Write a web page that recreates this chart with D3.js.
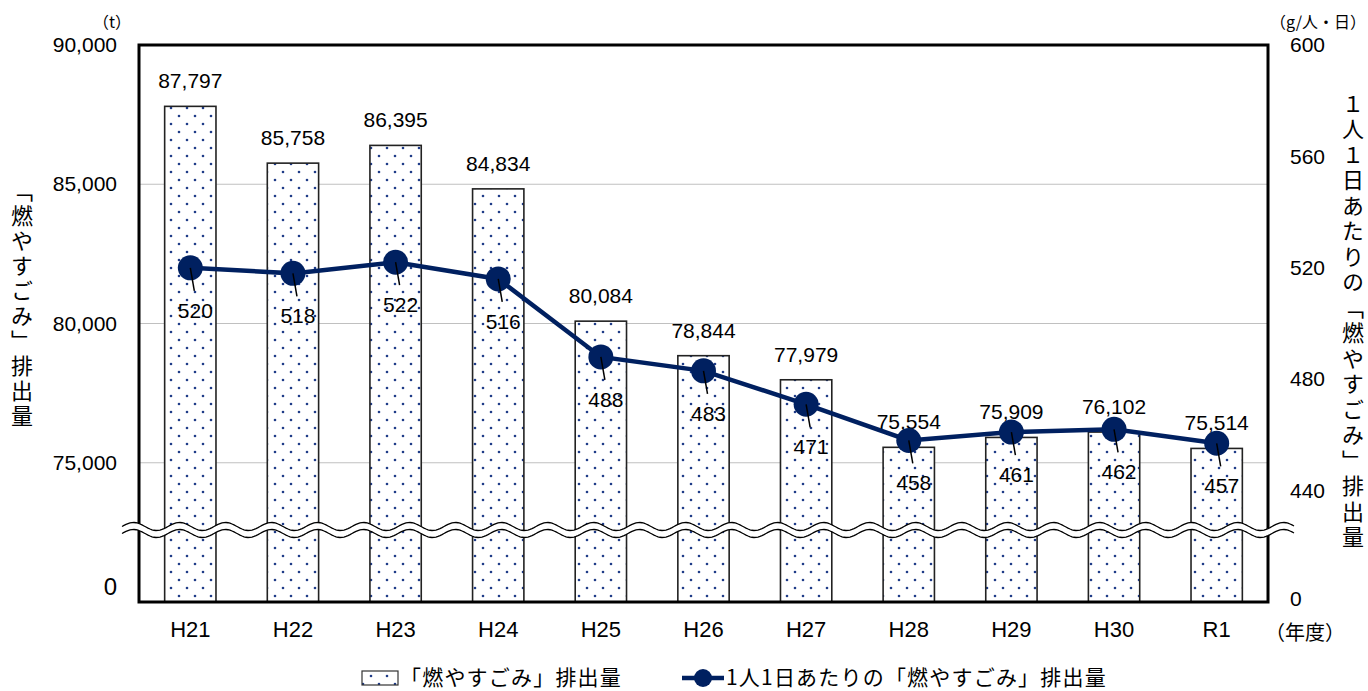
<!DOCTYPE html>
<meta charset="utf-8">
<style>
  body { margin: 0; background: #fff; }
  text { font-family: "Liberation Sans", Arial, "Noto Sans CJK JP", sans-serif; fill: #000; }
  .jp { font-family: "Noto Sans CJK JP", sans-serif; }
  .axis path { display: none; }
</style>
<body></body>
<script src="https://cdnjs.cloudflare.com/ajax/libs/d3/7.8.5/d3.min.js"></script>
<script>
  // data
  var years = ["H21", "H22", "H23", "H24", "H25", "H26", "H27", "H28", "H29", "H30", "R1"];
  var burnTotal = [87797, 85758, 86395, 84834, 80084, 78844, 77979, 75554, 75909, 76102, 75514];
  var perPerson = [520, 518, 522, 516, 488, 483, 471, 458, 461, 462, 457];
  var leftTicks = [75000, 80000, 85000, 90000];
  var rightTicks = [440, 480, 520, 560, 600];

  var W = 1368, H = 691;
  var pL = 139, pR = 1268, pT = 45, pB = 602;
  var navy = "#002060";

  var svg = d3.select("body").append("svg")
    .attr("width", W)
    .attr("height", H);

  var defs = svg.append("defs");
  var pat = defs.append("pattern")
    .attr("id", "dots")
    .attr("patternUnits", "userSpaceOnUse")
    .attr("width", 16).attr("height", 16);
  pat.append("rect").attr("width", 16).attr("height", 16).attr("fill", "#fff");
  pat.append("circle").attr("cx", 3).attr("cy", 4).attr("r", 1.3).attr("fill", "#1f3c88");
  pat.append("circle").attr("cx", 11).attr("cy", 12).attr("r", 1.3).attr("fill", "#1f3c88");

  var x = d3.scaleBand().domain(years).range([pL, pR]).paddingInner(0.5).paddingOuter(0.25);
  var yL = d3.scaleLinear().domain([70000, 90000]).range([pB, pT]);
  var yR = d3.scaleLinear().domain([400, 600]).range([pB, pT]);

  // gridlines
  svg.append("g").selectAll("line")
    .data(leftTicks.slice(0, 3))
    .enter().append("line")
    .attr("x1", pL).attr("x2", pR)
    .attr("y1", function(d) { return yL(d); })
    .attr("y2", function(d) { return yL(d); })
    .attr("stroke", "#c0c0c0").attr("stroke-width", 1.2);

  // bars
  svg.append("g").selectAll("rect")
    .data(burnTotal)
    .enter().append("rect")
    .attr("x", function(d, i) { return x(years[i]); })
    .attr("y", function(d) { return yL(d); })
    .attr("width", x.bandwidth())
    .attr("height", function(d) { return pB - yL(d); })
    .attr("fill", "url(#dots)")
    .attr("stroke", "#222").attr("stroke-width", 1.6);

  // bar labels
  svg.append("g").selectAll("text")
    .data(burnTotal)
    .enter().append("text")
    .attr("x", function(d, i) { return x(years[i]) + x.bandwidth() / 2; })
    .attr("y", function(d) { return yL(d) - 18; })
    .attr("text-anchor", "middle")
    .style("font-size", "21px")
    .text(d3.format(","));

  // frame
  svg.append("rect")
    .attr("x", pL).attr("y", pT)
    .attr("width", pR - pL).attr("height", pB - pT)
    .attr("fill", "none").attr("stroke", "#000").attr("stroke-width", 3);

  // line series
  var cx = function(i) { return x(years[i]) + x.bandwidth() / 2; };
  var line = d3.line()
    .x(function(d, i) { return cx(i); })
    .y(function(d) { return yR(d); });

  svg.append("path")
    .datum(perPerson)
    .attr("d", line)
    .attr("fill", "none").attr("stroke", navy).attr("stroke-width", 4.5);

  svg.append("g").selectAll("circle")
    .data(perPerson)
    .enter().append("circle")
    .attr("cx", function(d, i) { return cx(i); })
    .attr("cy", function(d) { return yR(d); })
    .attr("r", 12.5)
    .attr("fill", navy);

  // leader lines + labels
  svg.append("g").selectAll("line")
    .data(perPerson)
    .enter().append("line")
    .attr("x1", function(d, i) { return cx(i); })
    .attr("y1", function(d) { return yR(d); })
    .attr("x2", function(d, i) { return cx(i) + 4; })
    .attr("y2", function(d) { return yR(d) + 23; })
    .attr("stroke", "#000").attr("stroke-width", 1.5);

  svg.append("g").selectAll("text")
    .data(perPerson)
    .enter().append("text")
    .attr("x", function(d, i) { return cx(i) + 5; })
    .attr("y", function(d) { return yR(d) + 50; })
    .attr("text-anchor", "middle")
    .style("font-size", "21px")
    .text(function(d) { return d; });

  // axes
  var axL = svg.append("g").attr("class", "axis")
    .attr("transform", "translate(" + pL + ",0)")
    .call(d3.axisLeft(yL).tickValues(leftTicks).tickSize(0).tickPadding(22).tickFormat(d3.format(",")));
  axL.selectAll("text").style("font-size", "21px");

  var axR = svg.append("g").attr("class", "axis")
    .attr("transform", "translate(" + pR + ",0)")
    .call(d3.axisRight(yR).tickValues(rightTicks).tickSize(0).tickPadding(22));
  axR.selectAll("text").style("font-size", "21px");

  var axX = svg.append("g").attr("class", "axis")
    .attr("transform", "translate(0," + pB + ")")
    .call(d3.axisBottom(x).tickSize(0).tickPadding(19));
  axX.selectAll("text").style("font-size", "22px");

  // "0" labels under the break
  svg.append("text").attr("x", pL - 22).attr("y", 595).attr("text-anchor", "end")
    .style("font-size", "24px").text("0");
  svg.append("text").attr("x", pR + 22).attr("y", 606)
    .style("font-size", "21px").text("0");

  // axis break (double wavy line)
  var yb = 530, amp = 4, per = 46, gap = 7;
  var xs = d3.range(122, 1296, 2);
  var wave = function(off) {
    return xs.map(function(v) { return [v, yb + off - amp * Math.sin(2 * Math.PI * (v - 122) / per)]; });
  };
  var up = wave(-gap / 2), lo = wave(gap / 2);
  svg.append("path")
    .attr("d", d3.line()(up.concat(lo.slice().reverse())) + "Z")
    .attr("fill", "#fff");
  svg.append("path").attr("d", d3.line()(up)).attr("fill", "none").attr("stroke", "#000").attr("stroke-width", 1.3);
  svg.append("path").attr("d", d3.line()(lo)).attr("fill", "none").attr("stroke", "#000").attr("stroke-width", 1.3);

  // units
  svg.append("text").attr("class", "jp").attr("x", 112).attr("y", 28).attr("text-anchor", "middle")
    .style("font-size", "16px").text("（t）");
  svg.append("text").attr("class", "jp").attr("x", 1318).attr("y", 28).attr("text-anchor", "middle")
    .style("font-size", "16px").text("（g/人・日）");
  svg.append("text").attr("class", "jp").attr("x", 1305).attr("y", 640).attr("text-anchor", "middle")
    .style("font-size", "20px").text("（年度）");

  // axis titles (vertical)
  svg.append("text").attr("class", "jp")
    .attr("x", 22).attr("y", 305)
    .attr("text-anchor", "middle")
    .style("writing-mode", "vertical-rl")
    .style("font-size", "22px").style("letter-spacing", "3px")
    .text("「燃やすごみ」排出量");
  svg.append("text").attr("class", "jp")
    .attr("x", 1353).attr("y", 322)
    .attr("text-anchor", "middle")
    .style("writing-mode", "vertical-rl")
    .style("font-size", "22px").style("letter-spacing", "3.5px")
    .text("１人１日あたりの「燃やすごみ」排出量");

  // legend
  var lg = svg.append("g");
  lg.append("rect").attr("x", 362).attr("y", 671).attr("width", 36).attr("height", 14)
    .attr("fill", "url(#dots)").attr("stroke", "#333").attr("stroke-width", 1.2);
  lg.append("text").attr("class", "jp").attr("x", 400).attr("y", 685)
    .style("font-size", "21px").style("letter-spacing", "1.2px").text("「燃やすごみ」排出量");
  lg.append("line").attr("x1", 682).attr("x2", 724).attr("y1", 678).attr("y2", 678)
    .attr("stroke", navy).attr("stroke-width", 4.5);
  lg.append("circle").attr("cx", 703).attr("cy", 678).attr("r", 9).attr("fill", navy);
  lg.append("text").attr("class", "jp").attr("x", 726).attr("y", 685)
    .style("font-size", "21px").style("letter-spacing", "1.2px").text("1人1日あたりの「燃やすごみ」排出量");
</script>
